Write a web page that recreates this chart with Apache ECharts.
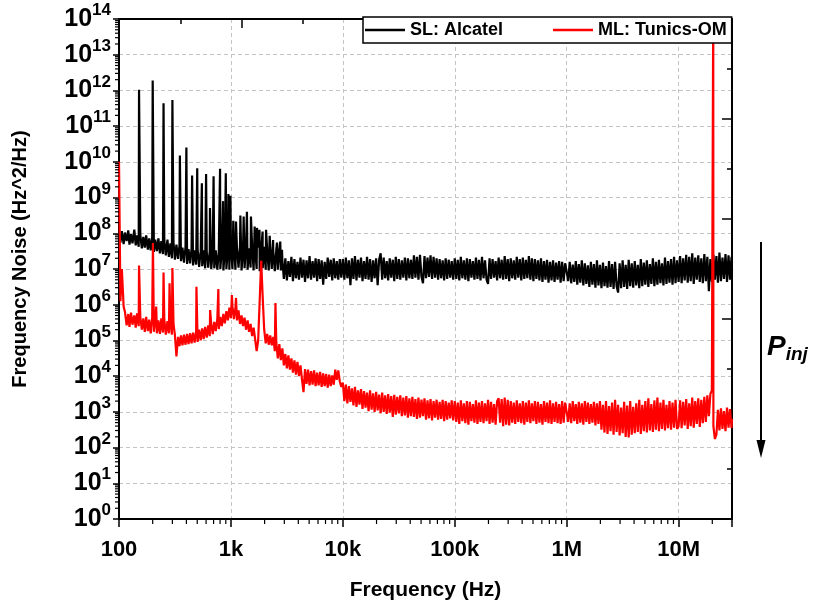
<!DOCTYPE html>
<html>
<head>
<meta charset="utf-8">
<script src="https://cdn.jsdelivr.net/npm/echarts@6/dist/echarts.min.js"></script>
<style>html,body{margin:0;padding:0;background:#fff}#c{width:819px;height:608px}</style>
</head>
<body>
<div id="c"></div>
<script>
// Frequency sample grid (Hz), 74 samples per decade
const freqHz = [
100,103,106,110,113,117,121,124,128,132,137,141,145,150,155,160,165,170,175,181,186,192,198,205,211,218,225,232,239,247,254,262,271,279,288,297,307,316,326,337,347,358,369,381,393,406,418,432,445,459,474,489,504,520,537,554,571,589,608,627,647,667,688,710,732,756,779,804,829,856,882,911,939,969,
1000,1032,1064,1098,1133,1169,1206,1244,1283,1324,1365,1409,1453,1499,1546,1595,1645,1698,1751,1807,1864,1923,1983,2046,2110,2177,2246,2317,2390,2466,2543,2624,2707,2793,2880,2972,3065,3163,3262,3366,3471,3582,3694,3812,3931,4057,4183,4317,4452,4594,4738,4889,5042,5203,5365,5537,5710,5892,6076,6270,6466,6673,6881,7101,7322,7557,7792,8042,8292,8558,8824,9107,9390,9692,
1e4,1.032e4,1.064e4,1.098e4,1.133e4,1.169e4,1.206e4,1.244e4,1.283e4,1.324e4,1.365e4,1.409e4,1.453e4,1.499e4,1.546e4,1.595e4,1.645e4,1.698e4,1.751e4,1.807e4,1.864e4,1.923e4,1.983e4,2.046e4,2.11e4,2.177e4,2.246e4,2.317e4,2.39e4,2.466e4,2.543e4,2.624e4,2.707e4,2.793e4,2.88e4,2.972e4,3.065e4,3.163e4,3.262e4,3.366e4,3.471e4,3.582e4,3.694e4,3.812e4,3.931e4,4.057e4,4.183e4,4.317e4,4.452e4,4.594e4,4.738e4,4.889e4,5.042e4,5.203e4,5.365e4,5.537e4,5.71e4,5.892e4,6.076e4,6.27e4,6.466e4,6.673e4,6.881e4,7.101e4,7.322e4,7.557e4,7.792e4,8.042e4,8.292e4,8.558e4,8.824e4,9.107e4,9.39e4,9.692e4,
1e5,1.032e5,1.064e5,1.098e5,1.133e5,1.169e5,1.206e5,1.244e5,1.283e5,1.324e5,1.365e5,1.409e5,1.453e5,1.499e5,1.546e5,1.595e5,1.645e5,1.698e5,1.751e5,1.807e5,1.864e5,1.923e5,1.983e5,2.046e5,2.11e5,2.177e5,2.246e5,2.317e5,2.39e5,2.466e5,2.543e5,2.624e5,2.707e5,2.793e5,2.88e5,2.972e5,3.065e5,3.163e5,3.262e5,3.366e5,3.471e5,3.582e5,3.694e5,3.812e5,3.931e5,4.057e5,4.183e5,4.317e5,4.452e5,4.594e5,4.738e5,4.889e5,5.042e5,5.203e5,5.365e5,5.537e5,5.71e5,5.892e5,6.076e5,6.27e5,6.466e5,6.673e5,6.881e5,7.101e5,7.322e5,7.557e5,7.792e5,8.042e5,8.292e5,8.558e5,8.824e5,9.107e5,9.39e5,9.692e5,
1e6,1.032e6,1.064e6,1.098e6,1.133e6,1.169e6,1.206e6,1.244e6,1.283e6,1.324e6,1.365e6,1.409e6,1.453e6,1.499e6,1.546e6,1.595e6,1.645e6,1.698e6,1.751e6,1.807e6,1.864e6,1.923e6,1.983e6,2.046e6,2.11e6,2.177e6,2.246e6,2.317e6,2.39e6,2.466e6,2.543e6,2.624e6,2.707e6,2.793e6,2.88e6,2.972e6,3.065e6,3.163e6,3.262e6,3.366e6,3.471e6,3.582e6,3.694e6,3.812e6,3.931e6,4.057e6,4.183e6,4.317e6,4.452e6,4.594e6,4.738e6,4.889e6,5.042e6,5.203e6,5.365e6,5.537e6,5.71e6,5.892e6,6.076e6,6.27e6,6.466e6,6.673e6,6.881e6,7.101e6,7.322e6,7.557e6,7.792e6,8.042e6,8.292e6,8.558e6,8.824e6,9.107e6,9.39e6,9.692e6,
1e7,1.032e7,1.064e7,1.098e7,1.133e7,1.169e7,1.206e7,1.244e7,1.283e7,1.324e7,1.365e7,1.409e7,1.453e7,1.499e7,1.546e7,1.595e7,1.645e7,1.698e7,1.751e7,1.807e7,1.864e7,1.923e7,1.983e7,2.046e7,2.11e7,2.177e7,2.246e7,2.317e7,2.39e7,2.466e7,2.543e7,2.624e7,2.707e7,2.793e7,2.88e7,2.972e7,3e7
];

// SL: Alcatel, log10 of frequency noise (Hz^2/Hz) at each grid frequency
const slLog10 = [
7.98,7.74,8.06,7.70,8.02,7.78,8.08,7.68,7.98,7.72,8.10,7.66,7.94,7.62,7.96,7.58,7.90,7.60,7.94,7.54,7.86,7.52,7.90,7.48,7.82,7.50,7.86,7.44,7.78,7.42,7.80,7.38,7.82,7.34,7.72,7.30,7.74,7.26,7.68,7.28,7.66,7.22,7.60,7.18,7.62,7.14,7.56,7.16,7.58,7.10,7.52,7.12,7.56,7.06,7.50,7.08,7.52,7.02,7.48,7.04,7.50,7.00,7.46,7.02,7.52,6.98,7.48,7.00,7.52,6.96,7.46,7.00,7.54,6.98,
7.60,7.00,7.64,6.98,7.58,7.04,7.66,6.96,7.56,7.02,7.62,6.98,7.58,7.04,7.64,6.96,7.55,7.00,7.60,6.94,7.56,7.02,7.62,6.98,7.52,6.96,7.58,7.00,7.50,6.94,7.54,6.98,7.52,6.96,
7.26,6.72,7.30,6.68,7.22,6.78,7.34,6.66,7.28,6.74,7.20,6.70,7.32,6.76,7.26,6.64,7.24,6.74,7.36,6.70,7.22,6.76,7.30,6.66,7.28,6.72,7.24,6.56,7.20,6.72,7.32,6.78,7.26,6.68,7.30,6.74,7.22,6.70,7.28,6.76,
7.28,6.70,7.32,6.74,7.24,6.55,7.30,6.72,7.36,6.68,7.26,6.76,7.32,6.66,7.22,6.72,7.34,6.70,7.28,6.64,7.24,6.74,7.30,6.55,7.26,7.44,6.70,7.32,6.74,7.22,6.68,7.30,6.76,7.26,6.66,7.34,6.72,7.28,6.70,7.24,6.76,7.32,6.68,7.30,6.74,7.26,6.72,7.38,6.76,7.34,6.70,7.40,6.78,6.60,7.36,6.74,7.32,6.78,7.38,6.72,7.34,6.76,7.30,6.70,7.28,6.74,7.24,6.68,7.30,6.72,7.26,6.76,7.22,6.70,
7.30,6.72,7.26,6.68,7.34,6.74,7.24,6.70,7.30,6.66,7.28,6.76,7.22,6.70,7.32,6.72,7.26,6.68,7.34,6.74,7.24,6.70,6.58,7.30,6.72,7.28,6.76,7.22,6.68,7.32,6.74,7.26,6.70,7.36,6.72,7.28,6.66,7.30,6.74,7.24,6.70,7.34,6.76,7.28,6.68,7.32,6.72,7.26,6.74,7.36,6.70,7.30,6.66,7.28,6.72,7.24,6.68,7.30,6.64,7.22,6.70,7.26,6.62,7.20,6.68,7.24,6.64,7.18,6.70,7.22,6.62,7.20,6.66,7.16,
7.16,6.66,7.20,6.60,7.12,6.64,7.22,6.56,7.14,6.62,7.24,6.54,7.16,6.58,7.10,6.50,7.20,6.56,7.14,6.48,7.24,6.54,7.12,6.46,7.18,6.52,7.08,6.48,7.22,6.50,7.14,6.44,7.20,6.52,6.34,7.16,6.46,7.24,6.50,7.12,6.44,7.26,6.52,7.16,6.48,7.22,6.54,7.12,6.46,7.28,6.52,7.18,6.56,7.24,6.50,7.14,6.58,7.30,6.52,7.20,6.56,7.26,6.60,7.16,6.54,7.32,6.58,7.22,6.62,7.28,6.56,7.34,6.60,7.24,
6.64,7.36,6.60,7.30,6.68,7.40,6.62,7.34,6.66,7.44,6.58,7.32,6.70,7.38,6.64,7.30,6.60,7.42,6.66,7.34,6.38,7.28,6.64,7.40,6.70,7.36,6.62,7.46,6.66,7.32,6.72,7.42,6.64,7.38,6.70,7.34,6.96
];
// SL mains-harmonic peaks: [Hz, log10 value]
const slPeaks = [
[151,12.02],[200,12.28],[250,11.64],[300,11.73],[350,10.18],[400,10.40],[450,9.62],[500,9.82],[550,9.40],[600,9.66],[650,8.71],[700,9.60],
[800,9.81],[850,8.90],[900,9.68],[950,9.10],[990,9.05],[1050,8.35],[1110,8.33],[1215,8.50],[1300,8.47],[1390,8.60],[1510,8.47],[1630,8.19],
[1710,8.15],[1800,8.10],[1920,8.05],[2060,8.10],[2220,7.93],[2380,7.81],[2580,7.74],[2760,7.77],[2860,7.54]
];

// ML: Tunics-OM, log10 of frequency noise at each grid frequency
const mlLog10 = [
10.0,6.10,7.00,5.95,5.80,5.42,5.74,5.38,5.78,5.44,5.70,5.36,5.76,5.40,5.66,5.30,5.62,5.24,5.66,5.26,5.58,5.20,5.64,5.24,5.60,5.20,5.56,5.18,5.62,5.22,5.58,5.16,5.54,5.20,5.50,5.16,5.46,5.14,4.55,5.10,4.84,5.14,4.86,5.16,4.88,5.18,4.90,5.20,4.92,5.22,4.94,5.26,4.96,5.30,5.00,5.34,5.04,5.38,5.08,5.42,5.12,5.46,5.18,5.52,5.26,5.60,5.32,5.66,5.40,5.74,5.48,5.82,5.56,5.92,
5.62,5.96,5.60,5.92,5.56,5.84,5.46,5.70,5.40,5.64,5.30,5.56,5.24,5.46,5.12,5.36,5.04,4.70,5.00,6.10,7.23,6.20,5.30,4.92,5.18,4.88,5.14,4.86,5.10,4.70,4.95,4.50,4.90,4.45,4.78,4.30,4.62,4.22,4.58,4.18,4.50,4.10,4.44,4.04,4.40,4.00,4.30,3.90,3.55,4.20,3.78,4.18,3.74,4.14,3.76,4.16,3.72,4.10,3.74,4.12,3.70,4.08,3.72,4.06,3.68,4.04,3.72,4.02,3.76,4.18,3.90,4.16,3.85,3.70,
3.82,3.30,3.76,3.24,3.72,3.28,3.66,3.18,3.70,3.14,3.60,3.20,3.64,3.08,3.58,3.12,3.54,3.02,3.60,3.06,3.52,3.00,3.56,3.04,3.48,2.96,3.54,3.00,3.46,2.94,3.50,2.98,3.44,2.86,3.48,2.92,3.42,2.96,3.46,2.88,3.40,2.90,3.44,2.84,3.38,2.88,3.42,2.86,3.36,2.80,3.40,2.84,3.34,2.88,3.38,2.78,3.32,2.82,3.36,2.76,3.30,2.84,3.34,2.78,3.28,2.80,3.34,2.74,3.30,2.78,3.26,2.82,3.32,2.76,
3.30,2.72,3.26,2.66,3.32,2.74,3.24,2.68,3.30,2.64,3.28,2.74,3.22,2.70,3.32,2.66,3.26,2.72,3.30,2.68,3.24,2.74,3.34,2.66,3.28,2.70,3.22,2.64,3.30,3.38,2.70,3.36,2.60,3.40,2.64,3.34,2.62,3.30,2.70,3.26,2.66,3.32,2.72,3.24,2.68,3.30,2.64,3.26,2.72,3.32,2.68,3.24,2.74,3.30,2.66,3.28,2.70,3.22,2.64,3.30,2.72,3.26,2.68,3.32,2.66,3.24,2.72,3.28,2.68,3.22,2.66,3.30,2.70,3.26,
3.28,2.72,3.24,2.68,3.30,2.74,3.22,2.66,3.28,2.70,3.24,2.64,3.30,2.72,3.26,2.66,3.22,2.70,3.28,2.62,3.24,2.66,3.30,2.50,3.20,2.42,3.30,2.38,3.16,2.46,3.26,2.36,3.34,2.44,3.20,2.34,3.12,2.40,3.28,2.30,3.18,2.28,3.30,2.36,3.14,2.40,3.24,2.44,3.34,2.38,3.20,2.46,3.30,2.42,3.38,2.48,3.22,2.44,3.32,2.50,3.40,2.46,3.26,2.52,3.34,2.48,3.20,2.54,3.30,2.50,3.26,2.56,3.34,2.52,
2.60,3.32,2.54,3.28,2.62,3.36,2.52,3.24,2.60,3.40,2.56,3.30,2.66,3.38,2.58,3.34,2.68,3.42,2.72,3.46,2.88,3.50,3.60,2.60,2.24,2.36,3.06,2.48,3.10,2.52,3.02,2.46,3.12,2.56,3.08,2.54,2.80
];
// ML spurs and the injection peak: [Hz, log10 value]
const mlPeaks = [
[151,7.1],[201,7.73],[215,5.95],[250,6.9],[283,6.6],[300,7.03],[492,6.5],[652,5.85],[772,6.44],
[1020,6.27],[1110,6.19],[2500,6.05],[2.04e7,14.5]
];

const seriesNames = ['SL: Alcatel', 'ML: Tunics-OM'];
const xTickLabels = ['100', '1k', '10k', '100k', '1M', '10M'];
const yTickExponents = [0,1,2,3,4,5,6,7,8,9,10,11,12,13,14];

function build(logs, peaks) {
  const pts = [];
  freqHz.forEach((f, i) => { if (logs[i] !== undefined) pts.push([f, Math.pow(10, logs[i])]); });
  peaks.forEach(p => pts.push([p[0], Math.pow(10, p[1])]));
  pts.sort((a, b) => a[0] - b[0]);
  return pts;
}
const slData = build(slLog10, slPeaks);
const mlData = build(mlLog10, mlPeaks);

// log-spaced minor tick marks (2..9 in each decade)
const yMinorTicks = [];
for (let d = 0; d < 14; d++) for (let m = 2; m <= 9; m++) yMinorTicks.push([100, m * Math.pow(10, d)]);
const xMinorTicks = [];
for (let d = 2; d <= 7; d++) for (let m = 2; m <= 9; m++) { const v = m * Math.pow(10, d); if (v < 3e7) xMinorTicks.push([v, 1]); }

const FONT = '"Liberation Sans", Arial, Helvetica, sans-serif';
const chart = echarts.init(document.getElementById('c'), null, {renderer: 'canvas'});

const option = {
  animation: false,
  backgroundColor: '#fff',
  grid: {left: 119, top: 19, right: 87, bottom: 89},
  legend: {
    z: 20,
    data: seriesNames.map(n => ({name: n, icon: 'rect'})),
    left: 363, top: 17, padding: [4, 5, 4, 2], itemGap: 50, itemWidth: 40, itemHeight: 2.5,
    borderColor: '#000', borderWidth: 1.5, backgroundColor: '#fff', selectedMode: false,
    textStyle: {fontFamily: FONT, fontWeight: 'bold', fontSize: 18, color: '#000', lineHeight: 18}
  },
  xAxis: [
    {
      type: 'log', logBase: 10, min: 100, max: 3e7, splitNumber: 6, position: 'bottom',
      name: 'Frequency (Hz)', nameLocation: 'middle', nameGap: 61,
      nameTextStyle: {fontFamily: FONT, fontWeight: 'bold', fontSize: 21, color: '#000'},
      axisLine: {show: true, lineStyle: {color: '#000', width: 2}},
      axisTick: {show: true, inside: false, length: 8, lineStyle: {color: '#000', width: 1.5}},
      axisLabel: {
        margin: 20, fontFamily: FONT, fontWeight: 'bold', fontSize: 22, color: '#000',
        formatter: v => { const e = Math.log10(v), r = Math.round(e); return Math.abs(e - r) < 1e-6 ? (xTickLabels[r - 2] || '') : ''; }
      },
      splitLine: {show: true, showMinLine: false, showMaxLine: false, lineStyle: {color: '#c4c4c4', width: 1, type: [4, 3]}}
    },
    {
      type: 'value', min: 0, max: 10, interval: 2, position: 'top',
      axisLine: {show: true, onZero: false, lineStyle: {color: '#000', width: 2}},
      axisTick: {show: true, inside: true, length: 9, lineStyle: {color: '#000', width: 1.5}},
      minorTick: {show: true, splitNumber: 2, length: 5, lineStyle: {color: '#000', width: 1.5}},
      axisLabel: {show: false}, splitLine: {show: false}
    }
  ],
  yAxis: [
    {
      type: 'log', logBase: 10, min: 1, max: 1e14, position: 'left',
      axisLine: {show: false}, axisTick: {show: false}, axisLabel: {show: false}, splitLine: {show: false}
    },
    {
      type: 'value', min: 0, max: 14, interval: 1, position: 'left',
      axisLine: {show: true, onZero: false, lineStyle: {color: '#000', width: 2}},
      axisTick: {show: true, inside: false, length: 6, lineStyle: {color: '#000', width: 1.5}},
      axisLabel: {
        margin: 8, color: '#000',
        formatter: v => yTickExponents.indexOf(v) >= 0 ? '{b|10}{s|' + v + '}' : '',
        rich: {
          b: {fontFamily: FONT, fontWeight: 'bold', fontSize: 25, color: '#000'},
          s: {fontFamily: FONT, fontWeight: 'bold', fontSize: 17, color: '#000', padding: [0, 0, 17, 0]}
        }
      },
      splitLine: {show: true, showMinLine: false, showMaxLine: false, lineStyle: {color: '#c4c4c4', width: 1, type: [4, 3]}}
    },
    {
      type: 'value', min: 0, max: 10, interval: 2, position: 'right',
      axisLine: {show: true, onZero: false, lineStyle: {color: '#000', width: 2}},
      axisTick: {show: true, inside: true, length: 10, lineStyle: {color: '#000', width: 1.5}},
      minorTick: {show: true, splitNumber: 2, length: 5, lineStyle: {color: '#000', width: 1.5}},
      axisLabel: {show: false}, splitLine: {show: false}
    }
  ],
  series: [
    {
      name: seriesNames[0], type: 'line', xAxisIndex: 0, yAxisIndex: 0, data: slData,
      symbol: 'none', showSymbol: false, z: 2,
      lineStyle: {color: '#000', width: 2.2}, itemStyle: {color: '#000'}
    },
    {
      name: seriesNames[1], type: 'line', xAxisIndex: 0, yAxisIndex: 0, data: mlData,
      symbol: 'none', showSymbol: false, z: 3,
      lineStyle: {color: '#ff0000', width: 2.2}, itemStyle: {color: '#ff0000'}
    },
    {
      type: 'custom', xAxisIndex: 0, yAxisIndex: 0, data: yMinorTicks, silent: true, clip: false, z: 5,
      renderItem: (params, api) => {
        const p = api.coord([api.value(0), api.value(1)]);
        const x0 = params.coordSys.x;
        return {type: 'line', shape: {x1: x0 - 4, y1: p[1], x2: x0, y2: p[1]}, style: {stroke: '#000', lineWidth: 1.2}};
      }
    },
    {
      type: 'custom', xAxisIndex: 0, yAxisIndex: 0, data: xMinorTicks, silent: true, clip: false, z: 5,
      renderItem: (params, api) => {
        const p = api.coord([api.value(0), api.value(1)]);
        const y0 = params.coordSys.y + params.coordSys.height;
        return {type: 'line', shape: {x1: p[0], y1: y0, x2: p[0], y2: y0 + 5}, style: {stroke: '#000', lineWidth: 1.2}};
      }
    }
  ],
  graphic: [
    {type: 'text', x: 20, y: 259, rotation: Math.PI / 2,
     style: {text: 'Frequency Noise (Hz^2/Hz)', fontFamily: FONT, fontWeight: 'bold', fontSize: 20, fill: '#000', align: 'center', verticalAlign: 'middle'}},
    {type: 'line', shape: {x1: 761, y1: 242, x2: 761, y2: 444}, style: {stroke: '#000', lineWidth: 2}},
    {type: 'polygon', shape: {points: [[756.5, 440], [765.5, 440], [761, 458]]}, style: {fill: '#000'}},
    {type: 'text', x: 767, y: 347,
     style: {text: '{p|P}{s|inj}', verticalAlign: 'middle', align: 'left',
       rich: {
         p: {fontFamily: FONT, fontWeight: 'bold', fontStyle: 'italic', fontSize: 28, fill: '#000'},
         s: {fontFamily: FONT, fontWeight: 'bold', fontStyle: 'italic', fontSize: 19, fill: '#000', padding: [16, 0, 0, 0]}
       }}}
  ]
};
chart.setOption(option);
</script>
</body>
</html>
